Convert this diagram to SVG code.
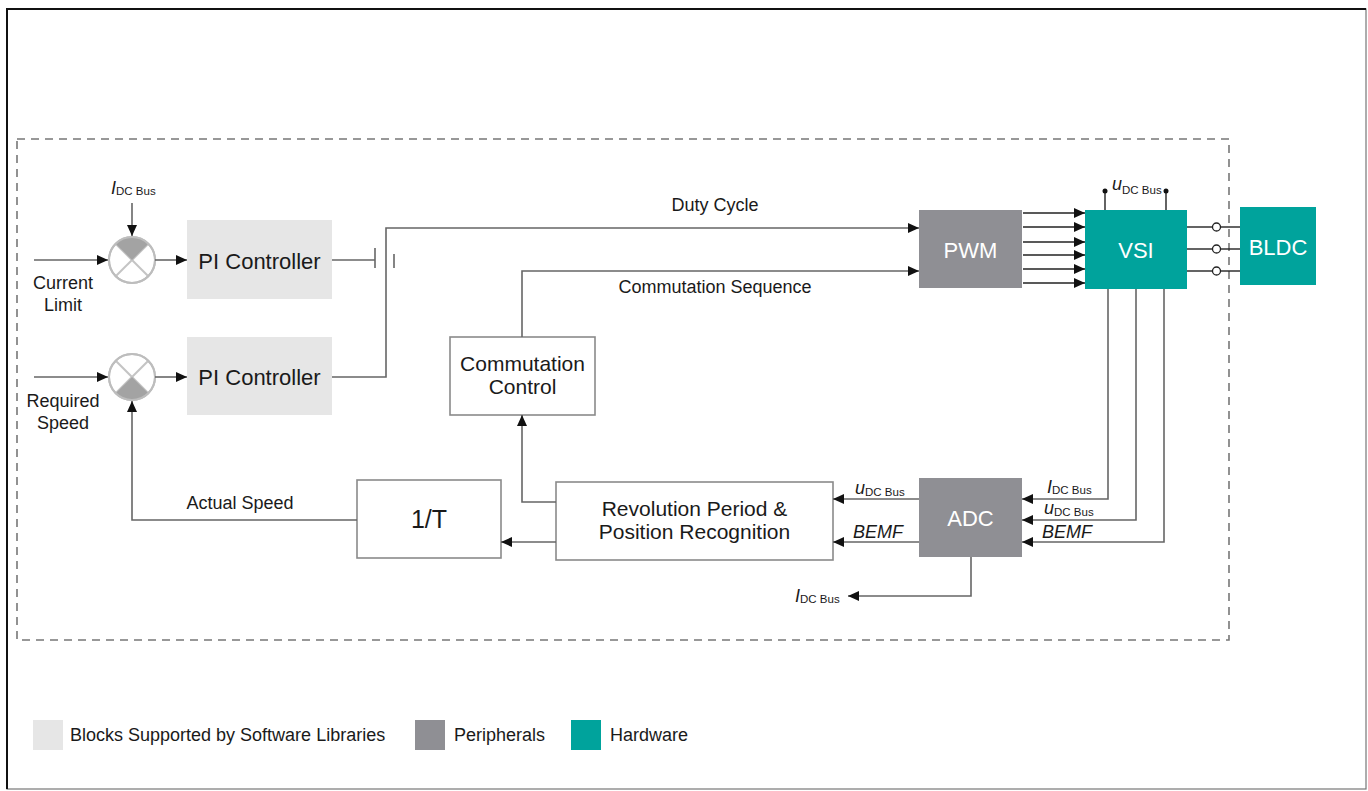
<svg xmlns="http://www.w3.org/2000/svg" width="1368" height="791" viewBox="0 0 1368 791">
<style>
text{font-family:"Liberation Sans",Arial,sans-serif;fill:#1a1a1a}
.lbl{font-size:18px}
.big{font-size:22px}
.wt{font-size:22px;fill:#ffffff}
.it{font-style:italic}
.sub{font-size:11.5px;font-style:normal}
.ln{fill:none;stroke:#666;stroke-width:1.6}
.bk{fill:none;stroke:#222;stroke-width:1.4}
.sw{fill:#e6e6e6}
.per{fill:#8f8f94}
.hw{fill:#00a39c}
.wb{fill:#ffffff;stroke:#8a8a8a;stroke-width:1.6}
.sum{fill:#ffffff;stroke:#bdbdbd;stroke-width:2}
.x{stroke:#c4c4c4;stroke-width:2}
.wedge{fill:#a3a3a3}
</style>
<defs>
<marker id="ah" markerUnits="userSpaceOnUse" markerWidth="12" markerHeight="10" refX="11" refY="5" orient="auto">
<path d="M0,0 L11,5 L0,10 Z" fill="#111"/>
</marker>
</defs>
<rect x="7" y="9" width="1359" height="780" fill="#ffffff" stroke="#777" stroke-width="1.2"/>
<path d="M7,789 L7,9 L1366,9" fill="none" stroke="#111" stroke-width="2"/>
<rect x="17" y="139" width="1212" height="501" fill="none" stroke="#777" stroke-width="1.6" stroke-dasharray="8,6"/>

<g id="sum1">
<circle cx="132" cy="260" r="23" class="sum"/>
<line x1="115.7" y1="243.7" x2="148.3" y2="276.3" class="x"/>
<line x1="148.3" y1="243.7" x2="115.7" y2="276.3" class="x"/>
<path d="M132,260 L115.7,243.7 A23,23 0 0 1 148.3,243.7 Z" class="wedge"/>
<circle cx="132" cy="260" r="23" fill="none" stroke="#bdbdbd" stroke-width="2"/>
</g>
<g id="sum2">
<circle cx="132" cy="377" r="23" class="sum"/>
<line x1="115.7" y1="360.7" x2="148.3" y2="393.3" class="x"/>
<line x1="148.3" y1="360.7" x2="115.7" y2="393.3" class="x"/>
<path d="M132,377 L148.3,393.3 A23,23 0 0 1 115.7,393.3 Z" class="wedge"/>
<circle cx="132" cy="377" r="23" fill="none" stroke="#bdbdbd" stroke-width="2"/>
</g>

<g id="pi1">
<rect x="187" y="220" width="145" height="79" class="sw"/>
<text x="259.5" y="269" class="big" text-anchor="middle">PI Controller</text>
</g>
<g id="pi2">
<rect x="187" y="337" width="145" height="78" class="sw"/>
<text x="259.5" y="385" class="big" text-anchor="middle">PI Controller</text>
</g>
<g id="comm">
<rect x="450" y="337" width="145" height="78" class="wb"/>
<text x="522.5" y="371" font-size="21" text-anchor="middle">Commutation</text>
<text x="522.5" y="394" font-size="21" text-anchor="middle">Control</text>
</g>
<g id="invT">
<rect x="357" y="480" width="144" height="78" class="wb"/>
<text x="429" y="528" font-size="25" text-anchor="middle">1/T</text>
</g>
<g id="rev">
<rect x="556" y="482" width="277" height="78" class="wb"/>
<text x="694.5" y="516" font-size="21" text-anchor="middle">Revolution Period &amp;</text>
<text x="694.5" y="539" font-size="21" text-anchor="middle">Position Recognition</text>
</g>
<g id="pwm">
<rect x="919" y="210" width="103" height="78" class="per"/>
<text x="970.5" y="258" class="wt" text-anchor="middle">PWM</text>
</g>
<g id="vsi">
<rect x="1085" y="210" width="102" height="79" class="hw"/>
<text x="1136" y="258" class="wt" font-size="23" text-anchor="middle">VSI</text>
</g>
<g id="bldc">
<rect x="1240" y="207" width="76" height="78" class="hw"/>
<text x="1278" y="255" class="wt" text-anchor="middle">BLDC</text>
</g>
<g id="adc">
<rect x="919" y="478" width="103" height="79" class="per"/>
<text x="970.5" y="526" class="wt" text-anchor="middle">ADC</text>
</g>

<g id="connectors">
<line x1="34" y1="260" x2="108" y2="260" class="ln" marker-end="url(#ah)"/>
<line x1="34" y1="377" x2="108" y2="377" class="ln" marker-end="url(#ah)"/>
<line x1="132" y1="203" x2="132" y2="236" class="ln" marker-end="url(#ah)"/>
<line x1="155" y1="260" x2="187" y2="260" class="ln" marker-end="url(#ah)"/>
<line x1="155" y1="377" x2="187" y2="377" class="ln" marker-end="url(#ah)"/>
<line x1="332" y1="260" x2="375" y2="260" class="ln"/>
<line x1="375" y1="248" x2="375" y2="268" class="ln"/>
<line x1="394" y1="254" x2="394" y2="268" class="ln"/>
<path d="M332,377 L386,377 L386,228 L919,228" class="ln" marker-end="url(#ah)"/>
<path d="M522,337 L522,271 L919,271" class="ln" marker-end="url(#ah)"/>
<path d="M556,502 L522,502 L522,415" class="ln" marker-end="url(#ah)"/>
<line x1="556" y1="542" x2="501" y2="542" class="ln" marker-end="url(#ah)"/>
<path d="M357,520 L132,520 L132,401" class="ln" marker-end="url(#ah)"/>
<line x1="1023" y1="213" x2="1085" y2="213" class="bk" marker-end="url(#ah)"/>
<line x1="1023" y1="227" x2="1085" y2="227" class="bk" marker-end="url(#ah)"/>
<line x1="1023" y1="242" x2="1085" y2="242" class="bk" marker-end="url(#ah)"/>
<line x1="1023" y1="255" x2="1085" y2="255" class="bk" marker-end="url(#ah)"/>
<line x1="1023" y1="269" x2="1085" y2="269" class="bk" marker-end="url(#ah)"/>
<line x1="1023" y1="283" x2="1085" y2="283" class="bk" marker-end="url(#ah)"/>
<line x1="1105" y1="191" x2="1105" y2="210" class="bk"/>
<line x1="1166" y1="191" x2="1166" y2="210" class="bk"/>
<circle cx="1105" cy="191" r="2.5" fill="#111"/>
<circle cx="1166" cy="191" r="2.5" fill="#111"/>
<line x1="1187" y1="227" x2="1212" y2="227" class="bk"/>
<line x1="1187" y1="249" x2="1212" y2="249" class="bk"/>
<line x1="1187" y1="271" x2="1212" y2="271" class="bk"/>
<line x1="1221" y1="227" x2="1240" y2="227" class="bk"/>
<line x1="1221" y1="249" x2="1240" y2="249" class="bk"/>
<line x1="1221" y1="271" x2="1240" y2="271" class="bk"/>
<circle cx="1216.5" cy="227" r="4" fill="#fff" stroke="#222" stroke-width="1.3"/>
<circle cx="1216.5" cy="249" r="4" fill="#fff" stroke="#222" stroke-width="1.3"/>
<circle cx="1216.5" cy="271" r="4" fill="#fff" stroke="#222" stroke-width="1.3"/>
<path d="M1108,289 L1108,499 L1022,499" class="ln" marker-end="url(#ah)"/>
<path d="M1136,289 L1136,520 L1022,520" class="ln" marker-end="url(#ah)"/>
<path d="M1164,289 L1164,542 L1022,542" class="ln" marker-end="url(#ah)"/>
<line x1="919" y1="499" x2="833" y2="499" class="ln" marker-end="url(#ah)"/>
<line x1="919" y1="542" x2="833" y2="542" class="ln" marker-end="url(#ah)"/>
<path d="M971,557 L971,596 L848,596" class="ln" marker-end="url(#ah)"/>
</g>

<g id="labels">
<text x="63" y="289" class="lbl" text-anchor="middle">Current</text>
<text x="63" y="311" class="lbl" text-anchor="middle">Limit</text>
<text x="63" y="407" class="lbl" text-anchor="middle">Required</text>
<text x="63" y="429" class="lbl" text-anchor="middle">Speed</text>
<text x="111" y="194" class="lbl it">I<tspan class="sub" dy="1">DC Bus</tspan></text>
<text x="715" y="211" class="lbl" text-anchor="middle">Duty Cycle</text>
<text x="715" y="293" class="lbl" text-anchor="middle">Commutation Sequence</text>
<text x="240" y="509" class="lbl" text-anchor="middle">Actual Speed</text>
<text x="1112" y="190" class="lbl it" font-size="19">u<tspan class="sub" dy="4">DC Bus</tspan></text>
<text x="1047" y="493" class="lbl it">I<tspan class="sub" dy="1">DC Bus</tspan></text>
<text x="1044" y="514" class="lbl it" font-size="19">u<tspan class="sub" dy="2">DC Bus</tspan></text>
<text x="1042" y="538" class="lbl it">BEMF</text>
<text x="855" y="494" class="lbl it" font-size="19">u<tspan class="sub" dy="2">DC Bus</tspan></text>
<text x="853" y="538" class="lbl it">BEMF</text>
<text x="795" y="602" class="lbl it">I<tspan class="sub" dy="1">DC Bus</tspan></text>
</g>

<g id="legend">
<rect x="33" y="720" width="30" height="30" class="sw"/>
<text x="70" y="741" class="lbl">Blocks Supported by Software Libraries</text>
<rect x="415" y="720" width="30" height="30" class="per"/>
<text x="454" y="741" class="lbl">Peripherals</text>
<rect x="571" y="720" width="30" height="30" class="hw"/>
<text x="610" y="741" class="lbl">Hardware</text>
</g>
</svg>
